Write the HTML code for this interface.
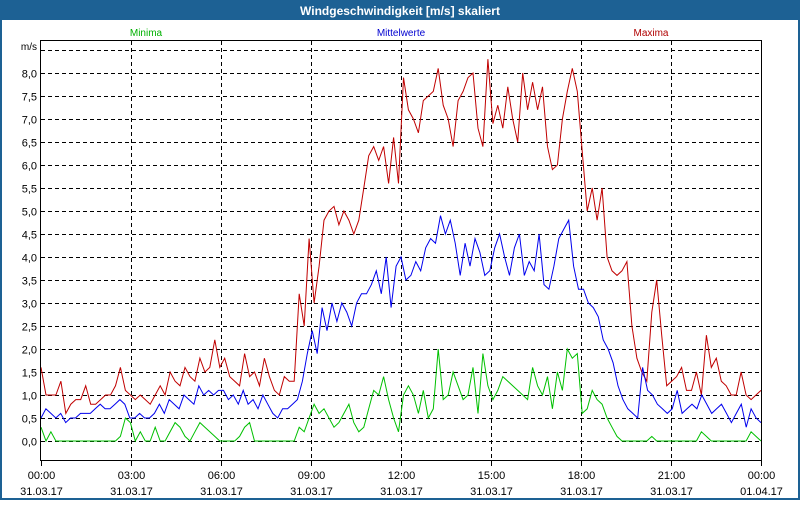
<!DOCTYPE html>
<html><head><meta charset="utf-8"><style>
body{margin:0;width:800px;height:500px;overflow:hidden;background:#fff;font-family:"Liberation Sans",sans-serif}
</style></head><body>
<svg width="800" height="500" xmlns="http://www.w3.org/2000/svg" font-family="Liberation Sans, sans-serif">
<rect x="0" y="0" width="800" height="500" fill="#1d6194"/>
<rect x="2" y="20" width="796" height="478" fill="#fff"/>
<text x="400" y="15" fill="#fff" font-size="12" font-weight="bold" text-anchor="middle">Windgeschwindigkeit [m/s] skaliert</text>
<text x="146" y="36" fill="#00b000" font-size="10" text-anchor="middle">Minima</text>
<text x="401" y="36" fill="#0000d0" font-size="10" text-anchor="middle">Mittelwerte</text>
<text x="651" y="36" fill="#b00000" font-size="10" text-anchor="middle">Maxima</text>
<text x="37" y="50" font-size="10" text-anchor="end">m/s</text>
<g id="grid"></g>
<g id="series"></g>
<g id="labels"></g>
<rect x="40.5" y="40.5" width="721" height="420" fill="none" stroke="#000"/>
</svg>
<script>
const yTicks=[0,0.5,1,1.5,2,2.5,3,3.5,4,4.5,5,5.5,6,6.5,7,7.5,8,8.5];
const xTickLabels=["00:00","03:00","06:00","09:00","12:00","15:00","18:00","21:00","00:00"];
const xTickDates=["31.03.17","31.03.17","31.03.17","31.03.17","31.03.17","31.03.17","31.03.17","31.03.17","01.04.17"];
const maxima=[1.6,1.0,1.0,1.0,1.3,0.6,0.8,0.9,0.9,1.2,0.8,0.8,0.9,1.0,1.0,1.2,1.6,1.1,1.0,
0.9,1.0,0.9,0.8,1.0,1.2,1.0,1.5,1.3,1.2,1.6,1.4,1.3,1.8,1.5,1.6,2.2,1.6,
1.8,1.4,1.3,1.2,1.9,1.4,1.5,1.2,1.8,1.4,1.1,1.0,1.4,1.3,1.3,3.2,2.5,4.4,
3.0,3.8,4.8,5.0,5.1,4.7,5.0,4.8,4.5,4.8,5.5,6.2,6.4,6.1,6.4,5.6,6.6,5.6,
7.9,7.2,7.0,6.7,7.4,7.5,7.6,8.1,7.3,7.0,6.4,7.4,7.6,7.9,8.0,6.8,6.4,8.3,
6.9,7.3,6.8,7.7,7.0,6.5,8.0,7.2,7.8,7.2,7.7,6.4,5.9,6.0,7.0,7.6,8.1,7.6,
6.3,5.0,5.5,4.8,5.5,4.0,3.7,3.6,3.7,3.9,2.5,1.8,1.5,1.3,2.8,3.5,2.3,1.2,
1.3,1.4,1.6,1.1,1.1,1.5,1.0,2.3,1.6,1.8,1.3,1.2,1.0,1.0,1.5,1.0,0.9,1.0,1.1];
const mittel=[0.5,0.7,0.6,0.5,0.6,0.4,0.5,0.5,0.6,0.6,0.6,0.7,0.8,0.7,0.7,0.8,0.9,0.8,0.5,
0.5,0.6,0.5,0.5,0.6,0.8,0.6,0.9,0.8,0.7,1.0,0.9,0.8,1.2,1.0,1.1,1.0,1.1,
1.1,0.9,1.0,0.8,1.1,0.8,0.9,0.7,1.0,0.8,0.6,0.5,0.7,0.7,0.8,0.9,1.3,1.9,
2.4,1.9,2.9,2.4,3.0,2.6,3.0,2.8,2.5,3.0,3.2,3.2,3.4,3.7,3.2,4.0,2.9,3.8,
4.0,3.5,3.6,3.9,3.7,4.2,4.4,4.3,4.9,4.5,4.8,4.3,3.6,4.3,3.8,4.4,4.1,3.6,
3.7,4.2,4.5,4.0,3.6,4.2,4.5,3.6,3.9,3.7,4.5,3.4,3.3,3.8,4.4,4.6,4.8,3.8,
3.3,3.3,3.0,2.9,2.7,2.2,2.0,1.7,1.2,0.9,0.7,0.6,0.5,1.6,1.1,1.0,0.8,0.7,
0.6,0.7,1.1,0.6,0.7,0.8,0.7,1.0,0.8,0.6,0.7,0.8,0.6,0.4,0.6,0.8,0.3,0.7,0.5,0.4];
const minima=[0.3,0.0,0.2,0.0,0.0,0.0,0.0,0.0,0.0,0.0,0.0,0.0,0.0,0.0,0.0,0.0,0.1,0.5,0.4,
0.0,0.2,0.0,0.0,0.3,0.0,0.0,0.2,0.4,0.3,0.1,0.0,0.2,0.4,0.3,0.2,0.1,0.0,
0.0,0.0,0.0,0.1,0.3,0.4,0.0,0.0,0.0,0.0,0.0,0.0,0.0,0.0,0.0,0.3,0.2,0.5,
0.8,0.6,0.7,0.5,0.3,0.4,0.6,0.8,0.4,0.2,0.3,0.7,1.1,1.0,1.4,0.9,0.5,0.2,
1.0,1.2,1.0,0.6,1.1,0.5,0.7,2.0,0.9,1.0,1.5,1.2,0.9,1.0,1.6,0.6,1.9,1.2,
0.9,1.1,1.4,1.3,1.2,1.1,1.0,0.9,1.6,1.2,1.0,1.4,0.7,1.5,1.1,2.0,1.8,1.9,
0.6,0.7,1.1,0.9,0.8,0.5,0.3,0.1,0.0,0.0,0.0,0.0,0.0,0.0,0.1,0.0,0.0,0.0,
0.0,0.0,0.0,0.0,0.0,0.0,0.2,0.1,0.0,0.0,0.0,0.0,0.0,0.0,0.0,0.0,0.2,0.1,0.0];
const NS="http://www.w3.org/2000/svg";
const X0=41,X1=761,Y0=441,PX=46;
const yS=v=>Y0-v*PX;
const xS=(i,n)=>X0+(X1-X0)*i/(n-1);
const grid=document.getElementById('grid'),labels=document.getElementById('labels'),series=document.getElementById('series');
function mk(tag,attrs,parent){const e=document.createElementNS(NS,tag);for(const k in attrs)e.setAttribute(k,attrs[k]);parent.appendChild(e);return e;}
yTicks.forEach(v=>{
  const y=Math.round(yS(v))+0.5;
  const l=mk('line',{x1:41,x2:761,y1:y,y2:y,stroke:'#000','stroke-dasharray':'4,3'},grid);
  
  
  if(v<8.5){
    const t=mk('text',{x:37,y:y+4,'font-size':11,'text-anchor':'end'},labels);
    t.textContent=v.toFixed(1).replace('.',',');
    
    
  }
});
xTickLabels.forEach((s,i)=>{
  const x=Math.round(xS(i,xTickLabels.length))+0.5;
  if(i>0&&i<xTickLabels.length-1){
    const l=mk('line',{x1:x,x2:x,y1:41,y2:460,stroke:'#000','stroke-dasharray':'4,3'},grid);
    
    
  }
  const tk=mk('line',{x1:x,x2:x,y1:461,y2:466,stroke:'#000'},grid);
  
  
  const t=mk('text',{x:x,y:479,'font-size':11,'text-anchor':'middle'},labels);
  t.textContent=s;
  
  
  const d=mk('text',{x:x,y:495,'font-size':11,'text-anchor':'middle'},labels);
  d.textContent=xTickDates[i];
  
  
});
function line(arr,color,name){
  const pts=arr.map((v,i)=>xS(i,arr.length).toFixed(1)+','+yS(v).toFixed(1)).join(' ');
  const p=mk('polyline',{points:pts,fill:'none',stroke:color,'stroke-width':1},series);
  
  
}
line(minima,'#00c000','minima-line');
line(maxima,'#c00000','maxima-line');
line(mittel,'#0000ee','mittelwerte-line');
</script>
</body></html>
